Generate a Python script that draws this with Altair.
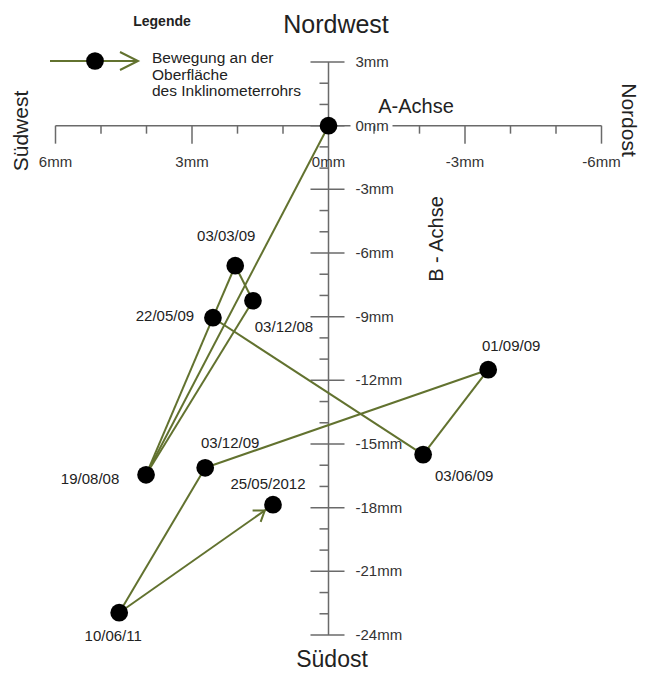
import math
import altair as alt
import pandas as pd

# ---------------- data ----------------
dates = ["", "19/08/08", "03/12/08", "03/03/09", "22/05/09", "03/06/09",
         "01/09/09", "03/12/09", "10/06/11", "25/05/2012"]
a_mm = [0.0, 4.01, 1.66, 2.05, 2.54, -2.08, -3.51, 2.71, 4.60, 1.22]      # A-Achse
b_mm = [0.0, -16.45, -8.25, -6.60, -9.05, -15.50, -11.50, -16.12, -22.95, -17.86]  # B-Achse
seg_from = [0, 1, 2, 3, 4, 4, 5, 6, 7, 8]
seg_to = [1, 2, 3, 4, 1, 5, 6, 7, 8, 9]

x_tick_values = [6, 3, 0, -3, -6]
x_tick_labels = ["6mm", "3mm", "0mm", "-3mm", "-6mm"]
y_tick_values = [3, 0, -3, -6, -9, -12, -15, -18, -21, -24]
y_tick_labels = ["3mm", "0mm", "-3mm", "-6mm", "-9mm", "-12mm", "-15mm",
                 "-18mm", "-21mm", "-24mm"]

legend_lines = ["Bewegung an der", "Oberfläche", "des Inklinometerrohrs"]

# ---------------- styling / layout ----------------
W, H = 634, 666
X_RANGE = [47.5, 593.5]
Y_RANGE = [54, 627]
XPX = (X_RANGE[1] - X_RANGE[0]) / 12.0
YPX = (Y_RANGE[1] - Y_RANGE[0]) / 27.0
OLIVE = "#62722f"
AXC = "#6a6a6a"
TXT = "#222222"
FONT = "Liberation Sans"
DOT = 314

xs = alt.Scale(domain=[6, -6], range=X_RANGE, nice=False, zero=False)
ys = alt.Scale(domain=[3, -24], range=Y_RANGE, nice=False, zero=False)

# label offsets in pixels (dx right, dy down), one per date
lab_off = {
    "19/08/08": (-56, 4), "03/12/08": (31, 26), "03/03/09": (-9, -30),
    "22/05/09": (-48, -2), "03/06/09": (41, 21), "01/09/09": (23, -24),
    "03/12/09": (25, -25), "10/06/11": (-6, 23), "25/05/2012": (-5, -21),
}

# ---------------- axis geometry ----------------
rows = []
rows.append(dict(x=0, x2=0, y=3, y2=-24))
rows.append(dict(x=6, x2=-22 / XPX, y=0, y2=0))
rows.append(dict(x=-64 / XPX, x2=-6, y=0, y2=0))
for v in range(-6, 7):
    if v == 0:
        continue
    L = 18 if v % 3 == 0 else 8
    rows.append(dict(x=v, x2=v, y=0, y2=-L / YPX))
for v in range(3, -25, -1):
    if v % 3 == 0:
        rows.append(dict(x=18 / XPX, x2=-16 / XPX, y=v, y2=v))
    else:
        rows.append(dict(x=9 / XPX, x2=0, y=v, y2=v))
axis_df = pd.DataFrame(rows)

axis_layer = alt.Chart(axis_df).mark_rule(color=AXC, strokeWidth=1.5).encode(
    x=alt.X("x:Q", scale=xs, axis=None), x2="x2:Q",
    y=alt.Y("y:Q", scale=ys, axis=None), y2="y2:Q")

xlab_df = pd.DataFrame({"x": x_tick_values, "y": [-36 / YPX] * len(x_tick_values),
                        "t": x_tick_labels})
xlab_layer = alt.Chart(xlab_df).mark_text(font=FONT, fontSize=15, color="#333",
                                          align="center", baseline="middle").encode(
    x=alt.X("x:Q", scale=xs, axis=None), y=alt.Y("y:Q", scale=ys, axis=None), text="t:N")

ylab_df = pd.DataFrame({"x": [-27 / XPX] * len(y_tick_values), "y": y_tick_values,
                        "t": y_tick_labels})
ylab_layer = alt.Chart(ylab_df).mark_text(font=FONT, fontSize=15, color="#333",
                                          align="left", baseline="middle").encode(
    x=alt.X("x:Q", scale=xs, axis=None), y=alt.Y("y:Q", scale=ys, axis=None), text="t:N")

# ---------------- movement path ----------------
seg_df = pd.DataFrame({
    "x": [a_mm[i] for i in seg_from], "y": [b_mm[i] for i in seg_from],
    "x2": [a_mm[i] for i in seg_to], "y2": [b_mm[i] for i in seg_to]})
seg_layer = alt.Chart(seg_df).mark_rule(color=OLIVE, strokeWidth=2).encode(
    x=alt.X("x:Q", scale=xs, axis=None), x2="x2:Q",
    y=alt.Y("y:Q", scale=ys, axis=None), y2="y2:Q")

# arrowhead at the last point
dxp = (a_mm[9] - a_mm[8]) * -XPX
dyp = (b_mm[9] - b_mm[8]) * -YPX
ang = math.degrees(math.atan2(dyp, dxp)) % 360
arrow_df = pd.DataFrame({"x": [a_mm[9]], "y": [b_mm[9]]})
arrow_layer = alt.Chart(arrow_df).mark_point(
    shape="M -4 -1.4 L -2 0 L -4 1.4", filled=False, size=100, strokeWidth=2,
    color=OLIVE, opacity=1, angle=ang).encode(
    x=alt.X("x:Q", scale=xs, axis=None), y=alt.Y("y:Q", scale=ys, axis=None))

pts_df = pd.DataFrame({"x": a_mm, "y": b_mm})
pts_layer = alt.Chart(pts_df).mark_circle(size=DOT, color="black", opacity=1).encode(
    x=alt.X("x:Q", scale=xs, axis=None), y=alt.Y("y:Q", scale=ys, axis=None))

lab_rows = []
for d, a, b in zip(dates, a_mm, b_mm):
    if not d:
        continue
    ox, oy = lab_off[d]
    lab_rows.append(dict(x=a - ox / XPX, y=b - oy / YPX, t=d))
lab_df = pd.DataFrame(lab_rows)
lab_layer = alt.Chart(lab_df).mark_text(font=FONT, fontSize=15, color=TXT,
                                        align="center", baseline="middle").encode(
    x=alt.X("x:Q", scale=xs, axis=None), y=alt.Y("y:Q", scale=ys, axis=None), text="t:N")

# ---------------- titles & legend (pixel positioned) ----------------
one = pd.DataFrame({"k": [0]})


def txt(s, x, y, size, angle=0, align="center", baseline="alphabetic", weight="normal"):
    return alt.Chart(one).mark_text(text=s, font=FONT, fontSize=size, color=TXT,
                                    angle=angle, align=align, baseline=baseline,
                                    fontWeight=weight).encode(
        x=alt.value(x), y=alt.value(y))


titles = [
    txt("Nordwest", 328, 25, 25),
    txt("Südost", 324, 659, 23),
    txt("Südwest", 14, 123, 21, angle=270, baseline="middle"),
    txt("Nordost", 620, 112, 21, angle=90, baseline="middle"),
    txt("A-Achse", 408, 105, 20),
    txt("B - Achse", 429, 231, 20, angle=270, baseline="middle"),
    txt("Legende", 154, 18, 14, weight="bold"),
]

leg_text = alt.Chart(one).mark_text(text=legend_lines, font=FONT, fontSize=15.5, color=TXT,
                                    align="left", baseline="alphabetic",
                                    lineHeight=16.5).encode(
    x=alt.value(144), y=alt.value(55))
leg_line = alt.Chart(one).mark_rule(color=OLIVE, strokeWidth=2).encode(
    x=alt.value(42), x2=alt.value(128), y=alt.value(53))
leg_arrow = alt.Chart(one).mark_point(
    shape="M -1.8 -0.9 L 0 0 L -1.8 0.9", filled=False, size=400, strokeWidth=2,
    color=OLIVE, opacity=1).encode(x=alt.value(130), y=alt.value(53))
leg_dot = alt.Chart(one).mark_circle(size=DOT, color="black", opacity=1).encode(
    x=alt.value(87), y=alt.value(53))

chart = alt.layer(
    axis_layer, xlab_layer, ylab_layer, seg_layer, arrow_layer, pts_layer, lab_layer,
    *titles, leg_line, leg_arrow, leg_dot, leg_text,
).properties(
    width=W, height=H, padding=0,
    autosize=alt.AutoSizeParams(type="none"),
    background="white",
).configure_view(stroke=None)

chart.save("out.html", embed_options={"renderer": "svg", "actions": False})
